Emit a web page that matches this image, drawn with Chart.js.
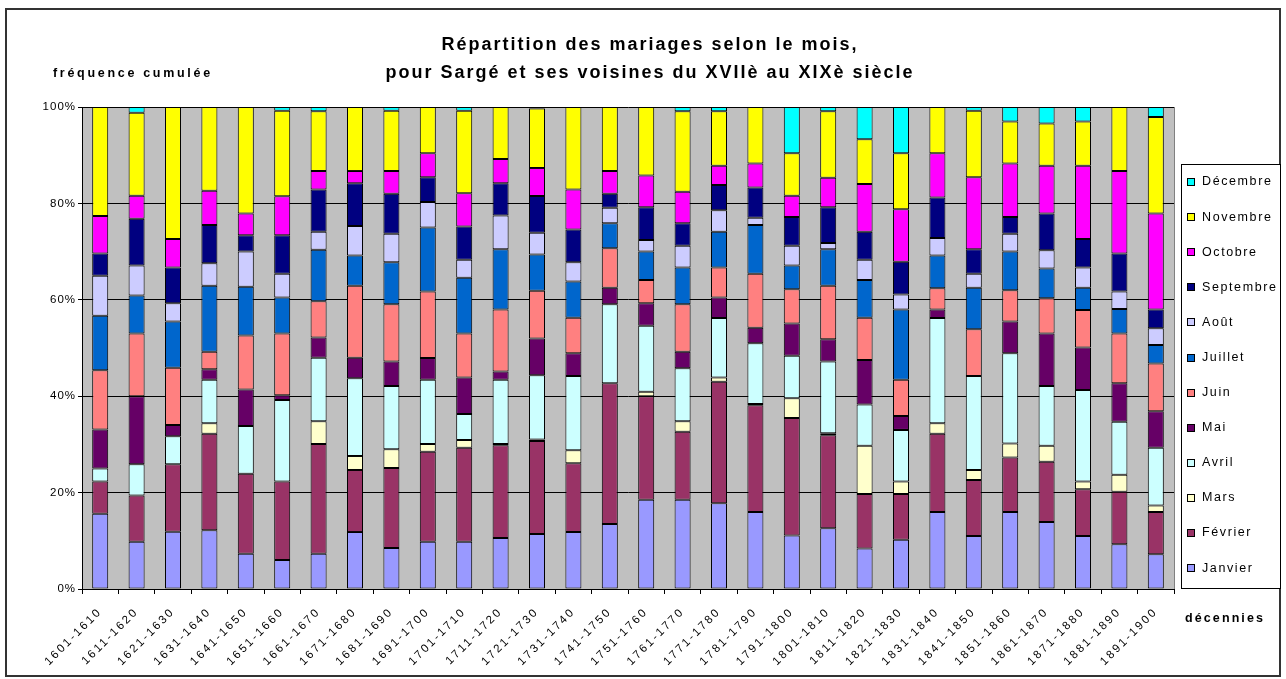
<!DOCTYPE html>
<html><head><meta charset="utf-8">
<script src="https://cdn.jsdelivr.net/npm/chart.js@4.4.1/dist/chart.umd.min.js"></script>
<style>html,body{margin:0;padding:0;background:#fff;overflow:hidden}#wrap{width:1286px;height:679px;position:relative}canvas{display:block}</style>
</head><body><div id="wrap"><canvas id="c" width="1286" height="679"></canvas></div>
<script>
const categories = ['1601-1610','1611-1620','1621-1630','1631-1640','1641-1650','1651-1660','1661-1670','1671-1680','1681-1690','1691-1700','1701-1710','1711-1720','1721-1730','1731-1740','1741-1750','1751-1760','1761-1770','1771-1780','1781-1790','1791-1800','1801-1810','1811-1820','1821-1830','1831-1840','1841-1850','1851-1860','1861-1870','1871-1880','1881-1890','1891-1900'];
const janvier   = [15.6,9.8,11.9,12.2,7.3,6.0,7.3,11.8,8.5,9.8,9.8,10.6,11.4,11.8,13.5,18.5,18.5,17.8,16.0,11.1,12.6,8.4,10.2,16.0,11.0,16.0,13.9,11.0,9.3,7.2];
const fevrier   = [6.7,9.6,14.0,20.0,16.6,16.3,22.8,12.9,16.6,18.7,19.5,19.2,19.2,14.3,29.2,21.5,14.1,25.2,22.1,24.4,19.3,11.3,9.5,16.2,11.6,11.3,12.5,9.7,10.9,8.8];
const mars      = [0,0,0,2.2,0,0,4.7,2.9,3.9,1.6,1.6,0.3,0.3,2.7,0,0.9,2.2,0.9,0.3,4.1,0.4,10.0,2.6,2.2,2.1,2.9,3.3,1.6,3.5,1.3];
const avril     = [2.7,6.5,5.8,9.0,9.9,16.9,13.2,16.1,13.1,13.3,5.4,13.3,13.3,15.4,16.4,13.7,11.0,12.3,12.6,8.8,14.9,8.6,10.7,21.8,19.5,18.7,12.4,19.0,11.0,12.0];
const mai       = [8.1,14.1,2.3,2.2,7.6,1.0,4.2,4.3,5.1,4.5,7.6,1.7,7.6,4.7,3.4,4.7,3.4,4.3,3.2,6.7,4.6,9.2,2.9,1.8,0,6.6,10.9,8.8,8.0,7.6];
const juin      = [12.3,13.0,11.9,3.6,11.2,12.8,7.5,14.9,11.9,13.8,9.1,12.9,9.9,7.4,8.2,4.8,9.9,6.2,11.2,7.1,11.1,8.8,7.5,4.4,9.7,6.5,7.3,7.8,10.3,9.9];
const juillet   = [11.3,7.9,9.6,13.7,10.1,7.5,10.7,6.3,8.7,13.3,11.6,12.5,7.5,7.5,5.2,5.9,7.6,7.4,10.1,4.9,7.6,7.8,14.6,6.8,8.6,8.0,6.2,4.6,5.1,3.8];
const aout      = [8.3,6.2,3.8,4.7,7.3,4.9,3.7,6.1,5.9,5.3,3.7,7.0,4.5,4.0,3.2,2.4,4.5,4.5,1.5,4.1,1.3,4.2,3.1,3.6,2.9,3.7,3.8,4.2,3.6,3.5];
const septembre = [4.6,9.7,7.4,7.9,3.4,8.0,8.8,8.9,8.3,5.1,6.9,6.7,7.6,6.8,2.9,6.8,4.7,5.2,6.3,6.0,7.4,5.8,6.8,8.4,5.1,3.5,7.6,5.9,7.9,3.9];
const octobre   = [7.8,4.8,5.9,7.1,4.5,8.1,3.8,2.5,4.7,5.0,6.9,5.0,5.8,8.3,4.7,6.6,6.5,4.0,5.0,4.4,6.1,9.9,10.9,9.2,14.9,11.1,9.9,15.2,17.1,19.9];
const novembre  = [22.6,17.2,27.4,17.4,22.1,17.7,12.4,13.3,12.5,9.6,17.1,10.8,12.3,17.1,13.3,14.2,16.7,11.3,11.7,8.8,13.8,9.3,11.6,9.6,13.8,8.7,8.8,9.2,13.3,20.0];
const decembre  = [0,1.2,0,0,0,0.8,0.9,0,0.8,0,0.8,0,0.3,0,0,0,0.9,0.9,0,9.6,0.9,6.7,9.6,0,0.8,3.0,3.4,3.0,0,2.1];
const seriesNames = ['Janvier','Février','Mars','Avril','Mai','Juin','Juillet','Août','Septembre','Octobre','Novembre','Décembre'];
const seriesColors = ['#9999FF','#993366','#FFFFCC','#CCFFFF','#660066','#FF8080','#0066CC','#CCCCFF','#000080','#FF00FF','#FFFF00','#00FFFF'];
const yTickLabels = ['0%','20%','40%','60%','80%','100%'];
const titleLines = ['Répartition des mariages selon le mois,','pour Sargé et ses voisines du XVIIè au XIXè siècle'];
const yTitle = 'fréquence cumulée';
const xTitle = 'décennies';

const raw = [janvier,fevrier,mars,avril,mai,juin,juillet,aout,septembre,octobre,novembre,decembre];
const totals = categories.map((_, i) => raw.reduce((s, a) => s + a[i], 0));
const datasets = raw.map((arr, k) => ({
  label: seriesNames[k],
  data: arr.map((v, i) => v === 0 ? null : v / totals[i] * 100),
  backgroundColor: seriesColors[k],
  borderColor: '#000',
  borderWidth: 1,
  borderSkipped: false,
  barPercentage: 0.44,
  categoryPercentage: 1.0
}));

const FONT = "'Liberation Sans', Arial, sans-serif";

function patchLabels(scale, spacing) {
  if (!scale || scale._lsPatched) return;
  const orig = scale.drawLabels;
  scale.drawLabels = function (area) {
    const ctx = this.ctx;
    const prev = ctx.letterSpacing;
    ctx.letterSpacing = spacing;
    orig.call(this, area);
    ctx.letterSpacing = prev;
  };
  scale._lsPatched = true;
}

const decor = {
  id: 'decor',
  beforeLayout(chart) { chart.ctx.letterSpacing = '1px'; },
  afterLayout(chart) {
    patchLabels(chart.scales.x, '2.3px');
    patchLabels(chart.scales.y, '1px');
  },
  beforeDraw(chart) {
    const ctx = chart.ctx, a = chart.chartArea;
    ctx.save();
    ctx.fillStyle = '#fff';
    ctx.fillRect(0, 0, chart.width, chart.height);
    ctx.fillStyle = '#C0C0C0';
    ctx.fillRect(a.left, a.top, a.right - a.left, a.bottom - a.top);
    ctx.restore();
  },
  afterDraw(chart) {
    const ctx = chart.ctx, a = chart.chartArea;
    ctx.save();
    ctx.letterSpacing = '0px';
    ctx.strokeStyle = '#333';
    ctx.lineWidth = 2;
    ctx.strokeRect(6, 9, 1274, 667);
    ctx.strokeStyle = '#808080';
    ctx.lineWidth = 1;
    ctx.beginPath();
    ctx.moveTo(Math.round(a.right) + 0.5, a.top);
    ctx.lineTo(Math.round(a.right) + 0.5, a.bottom);
    ctx.stroke();
    ctx.fillStyle = '#000';
    ctx.textAlign = 'center';
    ctx.textBaseline = 'middle';
    ctx.font = 'bold 18px ' + FONT;
    ctx.letterSpacing = '2px';
    ctx.fillText(titleLines[0], 650, 45);
    ctx.fillText(titleLines[1], 650, 73);
    ctx.font = 'bold 12.5px ' + FONT;
    ctx.letterSpacing = '2.7px';
    ctx.textAlign = 'left';
    ctx.fillText(yTitle, 53, 74);
    ctx.letterSpacing = '2.1px';
    ctx.fillText(xTitle, 1185, 619);
    const lx = 1181, ly = 164, lw = 99, lh = 424;
    ctx.fillStyle = '#fff';
    ctx.fillRect(lx, ly, lw, lh);
    ctx.strokeStyle = '#000';
    ctx.lineWidth = 1;
    ctx.strokeRect(lx + 0.5, ly + 0.5, lw, lh);
    ctx.font = '12.5px ' + FONT;
    ctx.letterSpacing = '1.6px';
    const ds = chart.data.datasets;
    for (let j = 0; j < ds.length; j++) {
      const d = ds[ds.length - 1 - j];
      const cy = 182 + j * 35.1;
      ctx.fillStyle = d.backgroundColor;
      ctx.fillRect(1187, Math.round(cy) - 4, 8, 8);
      ctx.strokeStyle = '#000';
      ctx.strokeRect(1187.5, Math.round(cy) - 3.5, 7, 7);
      ctx.fillStyle = '#000';
      ctx.fillText(d.label, 1202, cy);
    }
    ctx.restore();
  }
};

new Chart(document.getElementById('c'), {
  type: 'bar',
  data: { labels: categories, datasets },
  options: {
    responsive: false,
    animation: false,
    devicePixelRatio: 1,
    layout: { padding: { left: 0, top: 107, right: 112, bottom: 10 } },
    plugins: { legend: { display: false }, tooltip: { enabled: false }, title: { display: false } },
    scales: {
      x: {
        stacked: true,
        afterFit(s) { s.height = 80; },
        grid: { display: true, drawOnChartArea: false, drawTicks: true, tickLength: 5, color: '#000', offset: true },
        border: { display: true, color: '#000', width: 1 },
        ticks: { color: '#000', font: { family: FONT, size: 11.5 }, minRotation: 45, maxRotation: 45, padding: 11, autoSkip: false }
      },
      y: {
        stacked: true,
        min: 0, max: 100,
        afterFit(s) { s.width = 82; },
        grid: { color: '#000', lineWidth: 1, drawTicks: true, tickLength: 4 },
        border: { display: true, color: '#000', width: 1 },
        ticks: { stepSize: 20, color: '#000', padding: 2, font: { family: FONT, size: 11.5 }, callback: (v) => yTickLabels[Math.round(v / 20)] }
      }
    }
  },
  plugins: [decor]
});
</script></body></html>
